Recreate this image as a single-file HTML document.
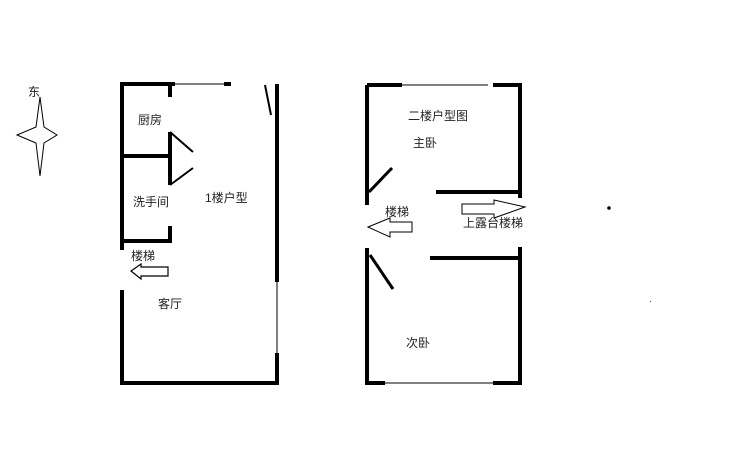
<!DOCTYPE html>
<html><head><meta charset="utf-8"><style>
body{margin:0;background:#fff;width:750px;height:469px;overflow:hidden}
svg text{font-family:"Liberation Sans","Noto Sans CJK SC",sans-serif;font-size:12px;fill:#222}
</style></head><body>
<svg width="750" height="469" viewBox="0 0 750 469">
<g stroke="#000" fill="none">
<!-- compass -->
<path d="M40 97 L44 127 L57 135 L44 143 L40 176 L36 143 L17 135 L36 127 Z" stroke-width="1"/>
<!-- left plan -->
<g stroke-width="4">
<path d="M122 84 H175 M122 82 V250 M122 290 V383 H277 M277 84 V282 M277 353 V385 M224 84 H231"/>
<path d="M170 84 V97 M120 156 H170 M122 241 H170 V226"/>
<path d="M170 132 V185"/>
</g>
<path d="M175 84 H224 M277 282 V353" stroke-width="1"/>
<path d="M170 132 L193 152 M170 185 L193 168 M265 85 L271 115" stroke-width="2"/>
<path d="M131 271 L141 264 V267 H168 V276 H141 V279 Z" stroke-width="1.2"/>
<!-- right plan -->
<g stroke-width="4">
<path d="M367 85 H402 M493 85 H520 V198 M436 192 H520 M367 85 V205 M367 248 V383 H385 M493 383 H520 V247 M430 258 H520"/>
</g>
<path d="M402 85 H488 M385 383 H493" stroke-width="1"/>
<path d="M369 192 L392 168 M370 255 L393 289" stroke-width="3"/>
<path d="M368 227 L390 218 V222 H412 V232 H390 V237 Z" stroke-width="1"/>
<path d="M462 204 H494 V200 L525 207 L494 218 V214 H462 Z" stroke-width="1"/>
</g>
<circle cx="609" cy="208" r="1.8" fill="#000"/>
<rect x="650" y="301" width="1" height="1" fill="#555"/>
<text x="28" y="96">东</text>
<text x="138" y="124">厨房</text>
<text x="133" y="206">洗手间</text>
<text x="205" y="202">1楼户型</text>
<text x="131" y="260">楼梯</text>
<text x="158" y="308">客厅</text>
<text x="408" y="120">二楼户型图</text>
<text x="413" y="147">主卧</text>
<text x="385" y="216">楼梯</text>
<text x="463" y="227">上露台楼梯</text>
<text x="406" y="347">次卧</text>
</svg>
</body></html>
